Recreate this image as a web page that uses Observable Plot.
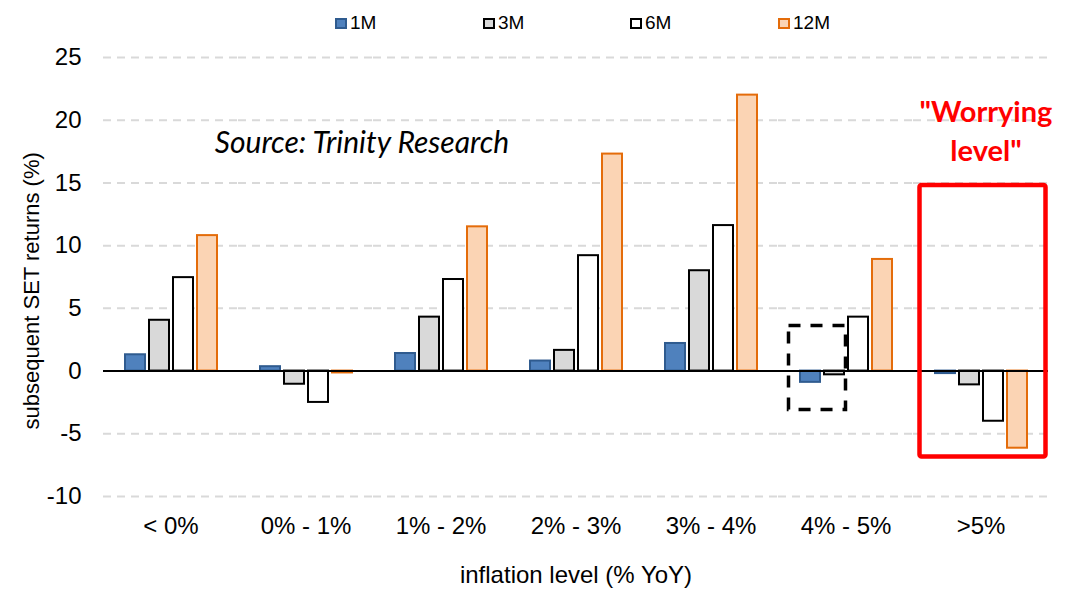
<!DOCTYPE html>
<html><head><meta charset="utf-8">
<script src="https://cdn.jsdelivr.net/npm/d3@7"></script>
<script src="https://cdn.jsdelivr.net/npm/@observablehq/plot@0.6"></script>
<style>
body{margin:0;background:#fff;font-family:"Liberation Sans",Arial,sans-serif;}
#wrap{position:relative;width:1069px;height:593px;overflow:hidden;}
#legend{position:relative;height:40px;width:1069px;}
.li{position:absolute;top:13px;display:flex;align-items:center;font-size:19px;color:#000;line-height:20px;}
.sw{width:8px;height:7px;margin-right:3px;border:2px solid;}
</style></head>
<body><div id="wrap"><div id="legend"></div><div id="chart"></div></div>
<script>
const categories = ["< 0%","0% - 1%","1% - 2%","2% - 3%","3% - 4%","4% - 5%",">5%"];
const series = ["1M","3M","6M","12M"];
const values1M = [1.3, 0.35, 1.4, 0.8, 2.2, -0.9, -0.2];
const values3M = [4.05, -1.05, 4.3, 1.65, 8.0, -0.3, -1.1];
const values6M = [7.45, -2.5, 7.3, 9.2, 11.6, 4.3, -4.0];
const values12M = [10.8, -0.15, 11.5, 17.3, 22.0, 8.9, -6.15];
const yTicks = [-10, -5, 0, 5, 10, 15, 20, 25];
const fills = ["#4f81bd", "#d9d9d9", "#ffffff", "#fbd4b4"];
const strokes = ["#2f5b8f", "#000000", "#000000", "#e46c0a"];
const legendLefts = [335, 483, 630, 778];
const dashedBox = [{cat: "4% - 5%", y1: -3.1, y2: 3.6}];
const redBox = [{cat: ">5%", y1: -6.85, y2: 14.8}];
const worryNote = [{cat: ">5%", y: 19.3, label: "\"Worrying\nlevel\""}];
const sourceNote = [{cat: "0% - 1%", y: 18.15, label: "Source: Trinity Research"}];
const yTitle = [{cat: "< 0%", y: 6.4, label: "subsequent SET returns (%)"}];

const allValues = [values1M, values3M, values6M, values12M];
const rows = [];
categories.forEach((c, i) => series.forEach((s, j) => rows.push({cat: c, series: s, value: allValues[j][i]})));

// legend
const leg = document.getElementById("legend");
series.forEach((s, j) => {
  const d = document.createElement("div");
  d.className = "li";
  d.style.left = legendLefts[j] + "px";
  d.innerHTML = `<span class="sw" style="background:${fills[j]};border-color:${strokes[j]}"></span>${s}`;
  leg.appendChild(d);
});

const chart = Plot.plot({
  width: 1069,
  height: 553,
  marginLeft: 102,
  marginRight: 21,
  marginTop: 17,
  marginBottom: 97,
  style: {fontFamily: "'Liberation Sans', Arial, sans-serif", fontSize: "22px", color: "#000", background: "#fff", overflow: "visible"},
  fx: {domain: categories, padding: 0},
  x: {domain: series, paddingInner: 0.18, paddingOuter: 0.85, axis: null},
  y: {domain: [-10, 25]},
  color: {domain: series, range: fills},
  marks: [
    Plot.gridY(yTicks.filter(d => d !== 0), {stroke: "#d9d9d9", strokeOpacity: 1, strokeWidth: 2, strokeDasharray: "8,6"}),
    Plot.barY(rows, {fx: "cat", x: "series", y: "value", fill: "series", stroke: d => strokes[series.indexOf(d.series)], strokeWidth: 2}),
    Plot.ruleY([0], {stroke: "#000", strokeWidth: 2}),
    Plot.rect(dashedBox, {fx: "cat", y1: "y1", y2: "y2", fill: "none", stroke: "#000", strokeWidth: 3.5, strokeDasharray: "12,10", insetLeft: 10.5, insetRight: 67.5}),
    Plot.rect(redBox, {fx: "cat", y1: "y1", y2: "y2", fill: "none", stroke: "#ff0000", strokeWidth: 4.5, insetLeft: 6.5, insetRight: 2.5, rx: 2}),
    Plot.text(worryNote, {fx: "cat", y: "y", text: "label", dx: 5, fill: "#ff0000", fontWeight: "bold", fontSize: 29, fontFamily: "Lato", lineHeight: 1.35}),
    Plot.text(sourceNote, {fx: "cat", y: "y", text: "label", dx: 56, fill: "#000", fontStyle: "italic", fontSize: 30, fontFamily: "Lato"}),
    Plot.text(yTitle, {fx: "cat", y: "y", text: "label", frameAnchor: "left", textAnchor: "middle", dx: -72, rotate: -90, fill: "#000", fontSize: 22}),
    Plot.axisY(yTicks, {tickSize: 0, tickPadding: 22, tickFormat: d => String(d), fontSize: 24, label: null}),
    Plot.axisFx({anchor: "bottom", tickSize: 0, tickPadding: 20, fontSize: 24, label: "inflation level (% YoY)", labelAnchor: "center", labelOffset: 86})
  ]
});
document.getElementById("chart").appendChild(chart);
</script>
</body></html>
